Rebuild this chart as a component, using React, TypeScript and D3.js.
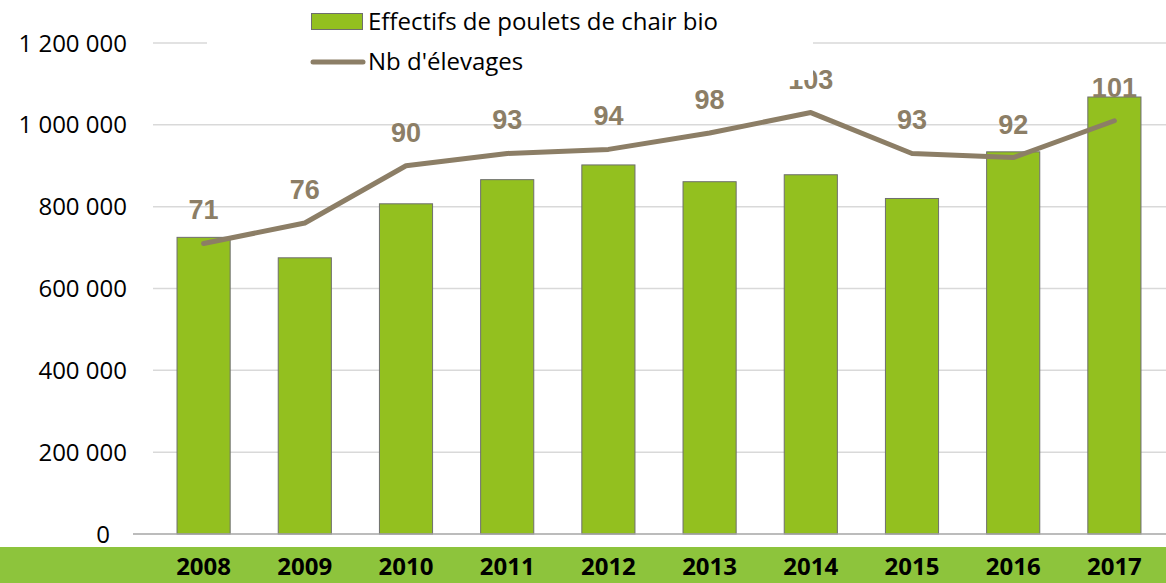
import { useMemo } from "react"
import * as d3 from "d3"

// chart data
const years = ["2008", "2009", "2010", "2011", "2012", "2013", "2014", "2015", "2016", "2017"]
const effectifs = [725000, 675000, 807000, 866000, 902000, 861000, 878000, 820000, 934000, 1068000]
const elevages = [71, 76, 90, 93, 94, 98, 103, 93, 92, 101]
const yTicks = [0, 200000, 400000, 600000, 800000, 1000000, 1200000]
const legendLabels = ["Effectifs de poulets de chair bio", "Nb d'élevages"]

const W = 1166
const H = 583
const BAR_COLOR = "#93c01f"
const LINE_COLOR = "#8c7e66"
const BAND_COLOR = "#8dc43c"

const fmt = (v: number) => d3.format(",")(v).replace(/,/g, " ")

const App = () => {
  const x = useMemo(() => d3.scaleBand().domain(years).range([153, 1165]).padding(0), [])
  const y = useMemo(() => d3.scaleLinear().domain([0, 1200000]).range([534, 43]), [])
  // secondary axis (hidden) for the number of farms
  const y2 = useMemo(() => d3.scaleLinear().domain([0, 120]).range([534, 43]), [])

  const barW = x.bandwidth() * 0.525
  const cx = (yr: string) => (x(yr) ?? 0) + x.bandwidth() / 2

  const line = d3.line<number>()
    .x((_, i) => cx(years[i]))
    .y(d => y2(d))

  return (
    <svg width={W} height={H} style={{ position: "absolute", left: 0, top: 0, background: "#fff" }}>
      {/* gridlines */}
      {yTicks.filter(t => t > 0).map(t => (
        <line key={t} x1={153} x2={W} y1={y(t)} y2={y(t)} stroke="#d9d9d9" strokeWidth={1.5} />
      ))}

      {/* y tick labels */}
      {yTicks.map(t => (
        <text key={t} x={t === 0 ? 110 : 127} y={y(t)} dy="0.36em" textAnchor="end"
          fontFamily="Open Sans" fontSize={24} fill="#000">
          {fmt(t)}
        </text>
      ))}

      {/* bars */}
      {effectifs.map((v, i) => (
        <rect key={years[i]} x={cx(years[i]) - barW / 2} y={y(v)} width={barW} height={y(0) - y(v)}
          fill={BAR_COLOR} stroke="#6e6e6e" strokeWidth={1} />
      ))}

      {/* baseline */}
      <line x1={133} x2={W} y1={y(0)} y2={y(0)} stroke="#a6a6a6" strokeWidth={1.5} />

      {/* line series */}
      <path d={line(elevages) ?? ""} fill="none" stroke={LINE_COLOR} strokeWidth={5}
        strokeLinecap="round" strokeLinejoin="round" />

      {/* data labels */}
      {elevages.map((v, i) => (
        <text key={years[i]} x={cx(years[i])} y={y2(v) - 24} textAnchor="middle"
          fontFamily="Liberation Sans" fontWeight="bold" fontSize={27} fill={LINE_COLOR}>
          {v}
        </text>
      ))}

      {/* legend box (covers the top of the chart) */}
      <rect x={207} y={0} width={606} height={80} fill="#fff" />
      <rect x={311.5} y={13.5} width={51} height={16} fill={BAR_COLOR} stroke="#6e6e6e" strokeWidth={1} />
      <text x={368} y={30} fontFamily="Open Sans" fontSize={24} fill="#000">{legendLabels[0]}</text>
      <line x1={313} x2={363} y1={62} y2={62} stroke={LINE_COLOR} strokeWidth={5} strokeLinecap="round" />
      <text x={368} y={70} fontFamily="Open Sans" fontSize={24} fill="#000">{legendLabels[1]}</text>

      {/* bottom band with years */}
      <rect x={0} y={547} width={W} height={H - 547} fill={BAND_COLOR} />
      {years.map(yr => (
        <text key={yr} x={cx(yr)} y={575} textAnchor="middle"
          fontFamily="Open Sans" fontWeight="bold" fontSize={24} fill="#000">
          {yr}
        </text>
      ))}
    </svg>
  )
}

export default App
